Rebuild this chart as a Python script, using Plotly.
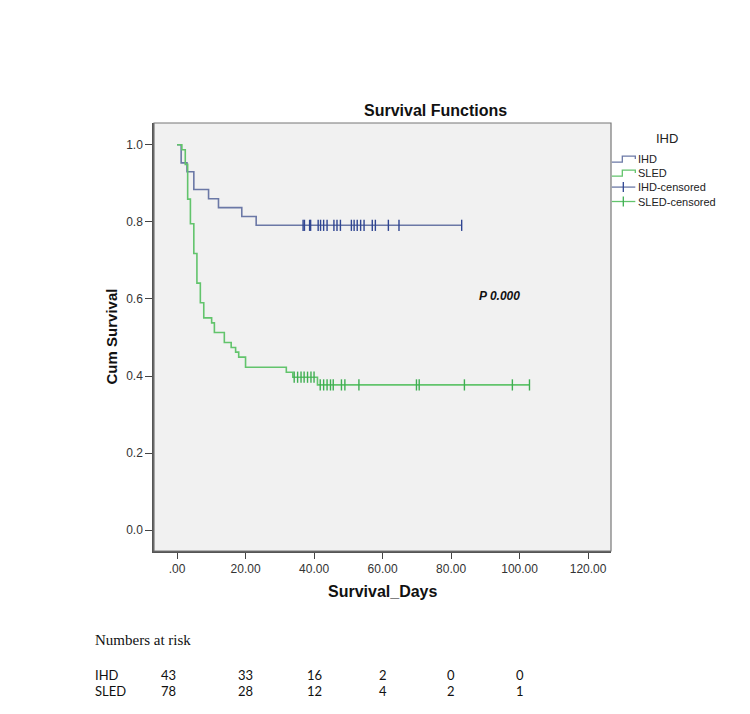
import plotly.graph_objects as go

# ---------------- data ----------------
ihd_times = [0, 1.2, 2.9, 4.9, 9.2, 12.1, 18.9, 23.1, 83.1]
ihd_surv = [1.0, 0.953, 0.930, 0.884, 0.860, 0.837, 0.814, 0.791, 0.791]
ihd_cens_t = [36.8, 37.2, 38.7, 39.0, 41.2, 41.9, 42.8, 43.8, 45.8, 46.7, 47.7,
              50.9, 51.7, 52.6, 53.6, 54.6, 57.0, 57.9, 61.7, 64.8, 83.1]
ihd_cens_s = 0.791

sled_times = [0, 1.4, 2.4, 3.1, 3.9, 4.9, 5.8, 6.8, 7.8, 10.1, 10.9, 13.8, 15.8,
              17.1, 18.0, 20.0, 31.9, 33.8, 41.0, 102.9]
sled_surv = [1.0, 0.987, 0.949, 0.859, 0.795, 0.718, 0.641, 0.590, 0.551, 0.538,
             0.513, 0.487, 0.474, 0.462, 0.449, 0.423, 0.410, 0.397, 0.377, 0.377]
sled_cens1_t = [34.2, 35.2, 36.2, 37.1, 38.1, 39.1, 40.0]
sled_cens1_s = 0.397
sled_cens2_t = [41.8, 42.8, 43.8, 44.8, 45.6, 48.0, 49.0, 53.1, 69.9, 70.7, 83.9, 97.9, 102.9]
sled_cens2_s = 0.377

x_ticks = [0, 20, 40, 60, 80, 100, 120]
x_tick_labels = [".00", "20.00", "40.00", "60.00", "80.00", "100.00", "120.00"]
y_ticks = [0.0, 0.2, 0.4, 0.6, 0.8, 1.0]
y_tick_labels = ["0.0", "0.2", "0.4", "0.6", "0.8", "1.0"]

risk_times = [0, 20, 40, 60, 80, 100]
ihd_risk = [43, 33, 16, 2, 0, 0]
sled_risk = [78, 28, 12, 4, 2, 1]

# ---------------- styles ----------------
IHD_LINE = "#6b78a6"
IHD_CENS = "#2f4592"
SLED_LINE = "#62c46c"
SLED_CENS = "#3fae52"

W, H = 750, 714
L, R, T, B = 154, 610.7, 123.3, 550.7
PW, PH = R - L, B - T


def px(x):
    return (x - L) / PW


def py(y):
    return (B - y) / PH


fig = go.Figure()

fig.add_trace(go.Scatter(x=ihd_times, y=ihd_surv, mode="lines", line_shape="hv",
                         line=dict(color=IHD_LINE, width=1.6), showlegend=False))
fig.add_trace(go.Scatter(x=sled_times, y=sled_surv, mode="lines", line_shape="hv",
                         line=dict(color=SLED_LINE, width=1.6), showlegend=False))
fig.add_trace(go.Scatter(x=ihd_cens_t, y=[ihd_cens_s] * len(ihd_cens_t), mode="markers",
                         marker=dict(symbol="line-ns", size=8,
                                     line=dict(color=IHD_CENS, width=1.4)),
                         showlegend=False))
fig.add_trace(go.Scatter(x=sled_cens1_t + sled_cens2_t,
                         y=[sled_cens1_s] * len(sled_cens1_t) + [sled_cens2_s] * len(sled_cens2_t),
                         mode="markers",
                         marker=dict(symbol="line-ns", size=8,
                                     line=dict(color=SLED_CENS, width=1.4)),
                         showlegend=False))

shapes = []
# frame
shapes.append(dict(type="rect", xref="paper", yref="paper", x0=0, x1=1, y0=0, y1=1,
                   line=dict(color="#777777", width=1.2), layer="above"))

# custom legend
rows = [159.3, 173.3, 187.3, 201.7]
lx0, lx1 = 611.5, 635
for i, (col, kind) in enumerate([(IHD_LINE, "step"), (SLED_LINE, "step"),
                                 (IHD_LINE, "cens"), (SLED_LINE, "cens")]):
    yv = rows[i]
    if kind == "step":
        path = (f"M {px(lx0)},{py(yv + 3)} L {px(622)},{py(yv + 3)} L {px(622)},{py(yv - 3)} "
                f"L {px(lx1)},{py(yv - 3)} L {px(lx1)},{py(yv)}")
        shapes.append(dict(type="path", xref="paper", yref="paper", path=path,
                           line=dict(color=col, width=1.3)))
    else:
        shapes.append(dict(type="line", xref="paper", yref="paper", x0=px(lx0), x1=px(lx1),
                           y0=py(yv), y1=py(yv), line=dict(color=col, width=1.3)))
        shapes.append(dict(type="line", xref="paper", yref="paper", x0=px(623), x1=px(623),
                           y0=py(yv - 5), y1=py(yv + 5),
                           line=dict(color=IHD_CENS if i == 2 else SLED_CENS, width=1.3)))

legend_labels = ["IHD", "SLED", "IHD-censored", "SLED-censored"]
annotations = []
for lab, yv in zip(legend_labels, rows):
    annotations.append(dict(xref="paper", yref="paper", x=px(636), y=py(yv), text=lab,
                            showarrow=False, xanchor="left", yanchor="middle",
                            font=dict(family="Arial, Liberation Sans", size=11, color="#222")))
annotations.append(dict(xref="paper", yref="paper", x=px(666.5), y=py(138.5), text="IHD",
                        showarrow=False, xanchor="center", yanchor="middle",
                        font=dict(family="Arial, Liberation Sans", size=13, color="#222")))

# title and axis titles
annotations.append(dict(xref="paper", yref="paper", x=px(435.5), y=py(110.5),
                        text="<b>Survival Functions</b>", showarrow=False,
                        xanchor="center", yanchor="middle",
                        font=dict(family="Arial, Liberation Sans", size=16, color="#111")))
annotations.append(dict(xref="paper", yref="paper", x=px(383.3), y=py(591.5),
                        text="<b>Survival_Days</b>", showarrow=False,
                        xanchor="center", yanchor="middle",
                        font=dict(family="Arial, Liberation Sans", size=16, color="#111")))
annotations.append(dict(xref="paper", yref="paper", x=px(112), y=py(336.5),
                        text="<b>Cum Survival</b>", showarrow=False, textangle=-90,
                        xanchor="center", yanchor="middle",
                        font=dict(family="Arial, Liberation Sans", size=15, color="#111")))
annotations.append(dict(xref="paper", yref="paper", x=px(499), y=py(296.5),
                        text="<b><i>P 0.000</i></b>", showarrow=False,
                        xanchor="center", yanchor="middle",
                        font=dict(family="Arial, Liberation Sans", size=12, color="#111")))

# numbers at risk
annotations.append(dict(xref="paper", yref="paper", x=px(92.7), y=py(640), text="Numbers at risk",
                        showarrow=False, xanchor="left", yanchor="middle",
                        font=dict(family="Liberation Serif, Times New Roman", size=15, color="#111")))
for lab, vals, yv in [("IHD", ihd_risk, 675), ("SLED", sled_risk, 691)]:
    annotations.append(dict(xref="paper", yref="paper", x=px(92.7), y=py(yv), text=lab,
                            showarrow=False, xanchor="left", yanchor="middle",
                            font=dict(family="Lato, Open Sans", size=13, color="#111")))
    for j, (t, v) in enumerate(zip(risk_times, vals)):
        annotations.append(dict(xref="x", yref="paper", x=t, y=py(yv), text=str(v),
                                showarrow=False, xanchor="center", yanchor="middle",
                                xshift=-9 if j == 0 else 0,
                                font=dict(family="Lato, Open Sans", size=13, color="#111")))

fig.update_layout(
    width=W, height=H,
    margin=dict(l=L, r=W - R, t=T, b=H - B, pad=0),
    paper_bgcolor="white", plot_bgcolor="#f1f1f1",
    xaxis=dict(range=[-6.73, 126.7], tickvals=x_ticks, ticktext=x_tick_labels,
               ticks="outside", ticklen=6, tickcolor="#444", showgrid=False, zeroline=False,
               showline=True, linecolor="#555", linewidth=1.5,
               tickfont=dict(family="Arial, Liberation Sans", size=12, color="#333")),
    yaxis=dict(range=[-0.0538, 1.0564], tickvals=y_ticks, ticktext=y_tick_labels,
               ticks="outside", ticklen=7, tickcolor="#444", showgrid=False, zeroline=False,
               showline=True, linecolor="#555", linewidth=1.5,
               tickfont=dict(family="Arial, Liberation Sans", size=12, color="#333")),
    shapes=shapes, annotations=annotations, showlegend=False,
)

fig.write_html("out.html")
